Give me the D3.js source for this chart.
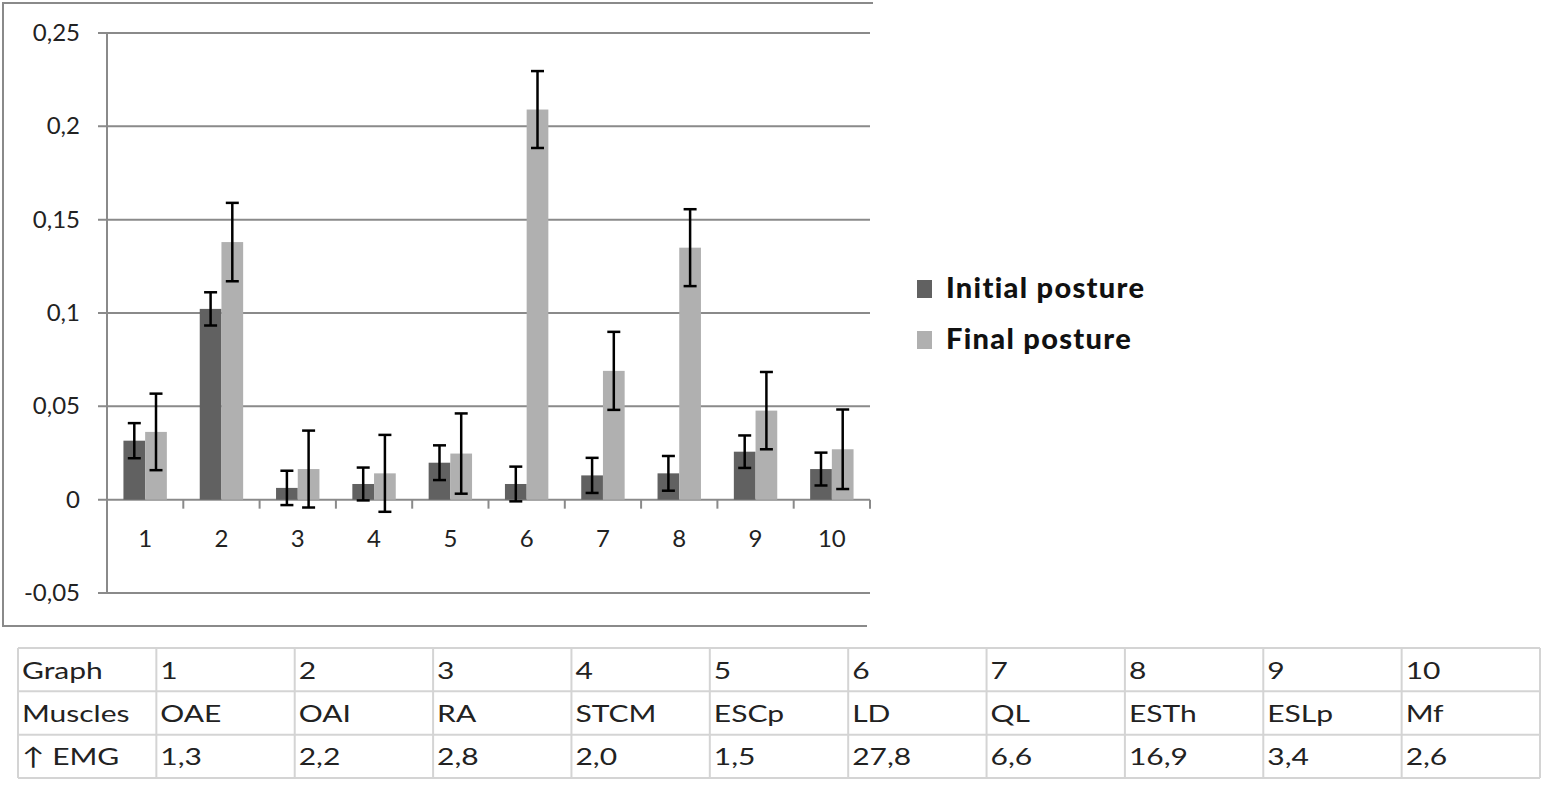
<!DOCTYPE html>
<html>
<head>
<meta charset="utf-8">
<script src="https://cdn.jsdelivr.net/npm/d3@7"></script>
<style>
  body { margin: 0; background: #fff; }
  svg { display: block; }
</style>
</head>
<body>
<svg id="chart" width="1563" height="800"></svg>
<script>
// data
var graphs = ["1", "2", "3", "4", "5", "6", "7", "8", "9", "10"];
var initialMean = [0.0316, 0.1022, 0.0063, 0.0084, 0.0198, 0.0084, 0.0130, 0.0141, 0.0257, 0.0164];
var initialErr  = [0.0094, 0.0089, 0.0092, 0.0088, 0.0093, 0.0093, 0.0094, 0.0093, 0.0087, 0.0088];
var finalMean   = [0.0363, 0.1380, 0.0164, 0.0141, 0.0247, 0.2090, 0.0690, 0.1350, 0.0477, 0.0270];
var finalErr    = [0.0205, 0.0210, 0.0206, 0.0206, 0.0215, 0.0206, 0.0209, 0.0206, 0.0207, 0.0213];
var seriesNames = ["Initial posture", "Final posture"];
var yTicks = [-0.05, 0, 0.05, 0.1, 0.15, 0.2, 0.25];
var yTickLabels = ["-0,05", "0", "0,05", "0,1", "0,15", "0,2", "0,25"];
var muscles = ["OAE", "OAI", "RA", "STCM", "ESCp", "LD", "QL", "ESTh", "ESLp", "Mf"];
var emgIncrease = ["1,3", "2,2", "2,8", "2,0", "1,5", "27,8", "6,6", "16,9", "3,4", "2,6"];
var rowHeads = ["Graph", "Muscles", "\u2191 EMG"];

var colors = ["#616161", "#b0b0b0"];
var font = "Lato, 'Open Sans', sans-serif";

var svg = d3.select("#chart");

var y = d3.scaleLinear().domain([-0.05, 0.25]).range([593, 33]);
var x = d3.scaleBand().domain(graphs).range([107, 870])
    .paddingInner(0.431).paddingOuter(0.2155);
var x1 = d3.scaleBand().domain([0, 1]).range([0, x.bandwidth()]);

// chart frame (no right edge in the picture)
svg.append("path")
    .attr("d", "M873,3 H3 V626 H867")
    .attr("fill", "none")
    .attr("stroke", "#8a8a8a")
    .attr("stroke-width", 2);

// gridlines + y tick labels
var yAxis = svg.append("g");
yAxis.selectAll("line.grid")
    .data(yTicks)
    .enter().append("line")
    .attr("class", "grid")
    .attr("x1", 98).attr("x2", 870)
    .attr("y1", function(d) { return y(d); })
    .attr("y2", function(d) { return y(d); })
    .attr("stroke", "#8a8a8a")
    .attr("stroke-width", 2);

yAxis.selectAll("text")
    .data(yTicks)
    .enter().append("text")
    .attr("x", 80)
    .attr("y", function(d) { return y(d) + 8; })
    .attr("text-anchor", "end")
    .attr("font-family", font)
    .attr("font-size", 24)
    .attr("fill", "#222")
    .text(function(d, i) { return yTickLabels[i]; });

svg.append("line")
    .attr("x1", 107).attr("x2", 107)
    .attr("y1", y(0.25)).attr("y2", y(-0.05))
    .attr("stroke", "#8a8a8a").attr("stroke-width", 2);

// x axis ticks at category boundaries
var step = x.step();
svg.selectAll("line.xtick")
    .data(graphs)
    .enter().append("line")
    .attr("class", "xtick")
    .attr("x1", function(d) { return x(d) + x.bandwidth() + step * x.paddingInner() / 2; })
    .attr("x2", function(d) { return x(d) + x.bandwidth() + step * x.paddingInner() / 2; })
    .attr("y1", y(0)).attr("y2", y(0) + 9)
    .attr("stroke", "#8a8a8a").attr("stroke-width", 2);

svg.selectAll("text.xlab")
    .data(graphs)
    .enter().append("text")
    .attr("class", "xlab")
    .attr("x", function(d) { return x(d) + x.bandwidth() / 2; })
    .attr("y", y(0) + 47)
    .attr("text-anchor", "middle")
    .attr("font-family", font)
    .attr("font-size", 24)
    .attr("fill", "#222")
    .text(function(d) { return d; });

// bars
var rows = graphs.map(function(g, i) {
    return { graph: g, values: [
        { s: 0, v: initialMean[i], e: initialErr[i] },
        { s: 1, v: finalMean[i], e: finalErr[i] }
    ] };
});

var groups = svg.selectAll("g.group")
    .data(rows)
    .enter().append("g")
    .attr("class", "group")
    .attr("transform", function(d) { return "translate(" + x(d.graph) + ",0)"; });

groups.selectAll("rect")
    .data(function(d) { return d.values; })
    .enter().append("rect")
    .attr("x", function(d) { return x1(d.s); })
    .attr("width", x1.bandwidth())
    .attr("y", function(d) { return y(Math.max(0, d.v)); })
    .attr("height", function(d) { return Math.abs(y(d.v) - y(0)); })
    .attr("fill", function(d) { return colors[d.s]; });

// error bars
var capHalf = 6.5;
var eb = groups.selectAll("g.err")
    .data(function(d) { return d.values; })
    .enter().append("g")
    .attr("class", "err")
    .attr("stroke", "#000")
    .attr("stroke-width", 2.5);

eb.append("line")
    .attr("x1", function(d) { return x1(d.s) + x1.bandwidth() / 2; })
    .attr("x2", function(d) { return x1(d.s) + x1.bandwidth() / 2; })
    .attr("y1", function(d) { return y(d.v + d.e); })
    .attr("y2", function(d) { return y(d.v - d.e); });
eb.append("line")
    .attr("x1", function(d) { return x1(d.s) + x1.bandwidth() / 2 - capHalf; })
    .attr("x2", function(d) { return x1(d.s) + x1.bandwidth() / 2 + capHalf; })
    .attr("y1", function(d) { return y(d.v + d.e); })
    .attr("y2", function(d) { return y(d.v + d.e); });
eb.append("line")
    .attr("x1", function(d) { return x1(d.s) + x1.bandwidth() / 2 - capHalf; })
    .attr("x2", function(d) { return x1(d.s) + x1.bandwidth() / 2 + capHalf; })
    .attr("y1", function(d) { return y(d.v - d.e); })
    .attr("y2", function(d) { return y(d.v - d.e); });

// legend
var legend = svg.selectAll("g.legend")
    .data(seriesNames)
    .enter().append("g")
    .attr("class", "legend")
    .attr("transform", function(d, i) { return "translate(917," + (280 + i * 51) + ")"; });
legend.append("rect")
    .attr("width", 15).attr("height", 18)
    .attr("fill", function(d, i) { return colors[i]; });
legend.append("text")
    .attr("x", 29).attr("y", 18)
    .attr("font-family", font)
    .attr("font-weight", 900)
    .attr("font-size", 29)
    .attr("letter-spacing", 1.3)
    .attr("fill", "#111")
    .text(function(d) { return d; });

// table below the chart
var tableRows = [["Graph"].concat(graphs), ["Muscles"].concat(muscles), [rowHeads[2]].concat(emgIncrease)];
var tx = d3.scaleBand().domain(d3.range(11)).range([18, 1540]);
var ty = d3.scaleBand().domain(d3.range(3)).range([648, 778]);

var table = svg.append("g");
table.selectAll("line.h")
    .data(d3.range(4))
    .enter().append("line")
    .attr("x1", 18).attr("x2", 1540)
    .attr("y1", function(d) { return 648 + d * ty.step(); })
    .attr("y2", function(d) { return 648 + d * ty.step(); })
    .attr("stroke", "#d4d4d4").attr("stroke-width", 2);
table.selectAll("line.v")
    .data(d3.range(12))
    .enter().append("line")
    .attr("x1", function(d) { return 18 + d * tx.step(); })
    .attr("x2", function(d) { return 18 + d * tx.step(); })
    .attr("y1", 648).attr("y2", 778)
    .attr("stroke", "#d4d4d4").attr("stroke-width", 2);

var trow = table.selectAll("g.trow")
    .data(tableRows)
    .enter().append("g")
    .attr("transform", function(d, i) { return "translate(0," + (ty(i) + ty.bandwidth() / 2 + 9) + ")"; });
trow.selectAll("text")
    .data(function(d) { return d; })
    .enter().append("text")
    .attr("transform", function(d, i) { return "translate(" + (tx(i) + 4) + ",0) scale(1.25,1)"; })
    .attr("font-family", font)
    .attr("font-size", 24)
    .attr("fill", "#222")
    .text(function(d) { return d; });
</script>
</body>
</html>
